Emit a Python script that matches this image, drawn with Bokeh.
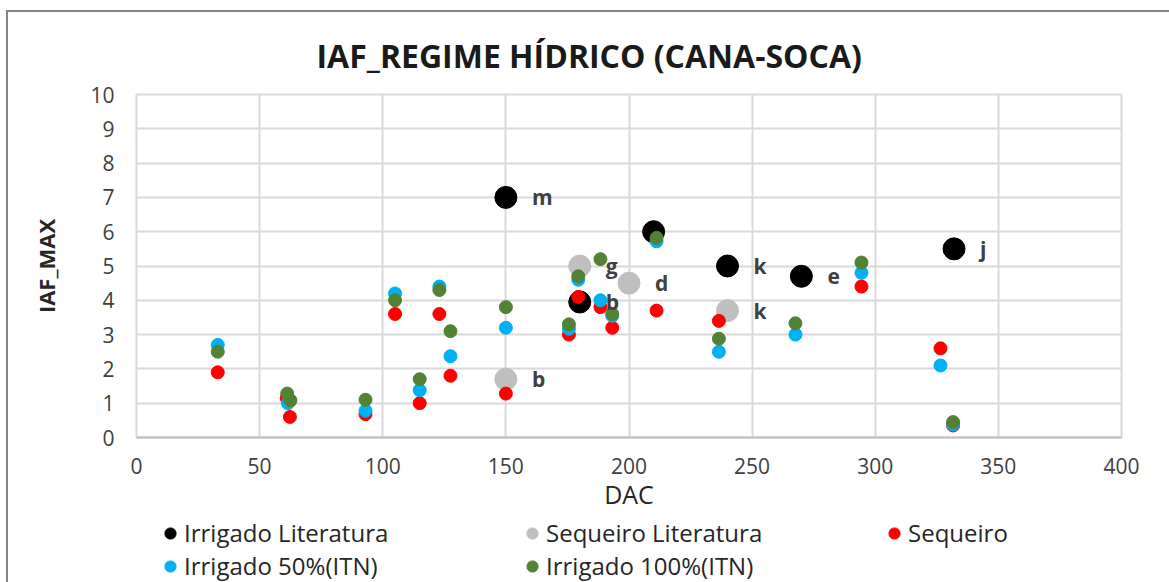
from bokeh.plotting import figure
from bokeh.layouts import column
from bokeh.models import (Range1d, Legend, LegendItem, ColumnDataSource,
                          FixedTicker)
from bokeh.embed import file_html
from bokeh.resources import INLINE
from bokeh.core.properties import value

# ---------------- data ----------------
title_text = "IAF_REGIME HÍDRICO  (CANA-SOCA)"
x_label = "DAC"
y_label = "IAF_MAX"
x_ticks = [0, 50, 100, 150, 200, 250, 300, 350, 400]
y_ticks = [0, 1, 2, 3, 4, 5, 6, 7, 8, 9, 10]

irr_lit_x = [150, 210, 180, 240, 270, 332]
irr_lit_y = [7.0, 6.0, 3.95, 5.0, 4.7, 5.5]
irr_lit_lbl = ["m", "", "b", "k", "e", "j"]

seq_lit_x = [150, 180, 200, 240]
seq_lit_y = [1.7, 5.0, 4.5, 3.7]
seq_lit_lbl = ["b", "g", "d", "k"]

seq_x = [33, 61, 62.3, 93, 105, 115, 123, 127.5, 150, 175.6, 179.4, 188.4, 193.2, 211.2, 236.5, 294.4, 326.5, 331.6]
seq_y = [1.9, 1.15, 0.6, 0.68, 3.6, 1.0, 3.6, 1.8, 1.28, 3.0, 4.1, 3.8, 3.2, 3.7, 3.4, 4.4, 2.6, 0.35]

irr50_x = [33, 61.5, 93, 105, 115, 123, 127.5, 150, 175.6, 179.4, 188.4, 193.2, 211.2, 236.5, 267.6, 294.4, 326.5, 331.6]
irr50_y = [2.7, 1.0, 0.78, 4.2, 1.38, 4.4, 2.37, 3.2, 3.17, 4.6, 4.0, 3.55, 5.72, 2.5, 3.0, 4.8, 2.1, 0.38]

irr100_x = [33, 61.2, 62.5, 93, 105, 115, 123, 127.5, 150, 175.6, 179.4, 188.4, 193.2, 211.2, 236.5, 267.6, 294.4, 331.6]
irr100_y = [2.5, 1.28, 1.08, 1.1, 4.0, 1.7, 4.3, 3.1, 3.8, 3.3, 4.7, 5.2, 3.6, 5.82, 2.88, 3.33, 5.1, 0.45]

series_names = ["Irrigado Literatura", "Sequeiro Literatura", "Sequeiro",
                "Irrigado 50%(ITN)", "Irrigado 100%(ITN)"]
series_colors = ["#000000", "#BFBFBF", "#FF0000", "#00B0F0", "#548235"]
series_sizes = [22, 22, 13, 13, 13]

# ---------------- main figure ----------------
FONT = "Open Sans"

p = figure(width=1161, height=504, output_backend="svg", toolbar_location=None,
           x_range=Range1d(0, 400), y_range=Range1d(0, 10),
           min_border_left=128, min_border_right=48,
           min_border_top=82, min_border_bottom=79)
p.background_fill_color = "white"
p.border_fill_color = "white"
p.outline_line_color = "#D9D9D9"
p.outline_line_width = 2

p.title.text = title_text
p.title.align = "left"
p.title.offset = 180
p.title.text_font = FONT
p.title.text_font_style = "bold"
p.title.text_font_size = "32px"
p.title.text_color = "#1A1A1A"
if "standoff" in p.title.properties():
    p.title.standoff = 35

p.xaxis.ticker = FixedTicker(ticks=x_ticks)
p.yaxis.ticker = FixedTicker(ticks=y_ticks)
for ax in (p.xaxis[0], p.yaxis[0]):
    ax.major_tick_line_color = None
    ax.minor_tick_line_color = None
    ax.major_label_text_font = FONT
    ax.major_label_text_font_size = "21px"
    ax.major_label_text_color = "#404040"
    ax.axis_label_text_font = FONT
    ax.axis_label_text_color = "#262626"
p.xaxis.axis_line_color = "#BFBFBF"
p.xaxis.axis_line_width = 2
p.yaxis.axis_line_color = None
p.xaxis.major_label_standoff = 14
p.yaxis.major_label_standoff = 16
p.xaxis.axis_label = x_label
p.xaxis.axis_label_text_font_size = "25px"
p.xaxis.axis_label_text_font_style = "normal"
p.xaxis.axis_label_standoff = 0
p.yaxis.axis_label = y_label
p.yaxis.axis_label_text_font_size = "22px"
p.yaxis.axis_label_text_font_style = "bold"
p.yaxis.axis_label_standoff = 26

p.grid.grid_line_color = "#D9D9D9"
p.grid.grid_line_width = 2

src_irr_lit = ColumnDataSource(dict(x=irr_lit_x, y=irr_lit_y, lbl=irr_lit_lbl))
src_seq_lit = ColumnDataSource(dict(x=seq_lit_x, y=seq_lit_y, lbl=seq_lit_lbl))
series_data = [(irr_lit_x, irr_lit_y), (seq_lit_x, seq_lit_y), (seq_x, seq_y),
               (irr50_x, irr50_y), (irr100_x, irr100_y)]

for (sx, sy), col, sz in zip(series_data, series_colors, series_sizes):
    p.scatter(sx, sy, size=sz, marker="circle", fill_color=col, line_color=col)

for src in (src_irr_lit, src_seq_lit):
    p.text("x", "y", text="lbl", source=src, x_offset=26, text_align="left",
           text_baseline="middle", text_font=value(FONT), text_font_style="bold",
           text_font_size="21px", text_color="#404040")

# ---------------- legend strip (own figure so it is not clipped) ----------------
q = figure(width=1161, height=66, output_backend="svg", toolbar_location=None,
           x_range=Range1d(0, 1), y_range=Range1d(0, 1),
           x_axis_type=None, y_axis_type=None,
           min_border_left=0, min_border_right=0, min_border_top=0, min_border_bottom=0)
q.outline_line_color = None
q.grid.visible = False
q.background_fill_color = "white"
q.border_fill_color = "white"

leg_renderers = []
for (sx, sy), col, sz in zip(series_data, series_colors, series_sizes):
    # same series; this strip's ranges keep the points out of view, only the legend shows
    leg_renderers.append(q.scatter(sx, sy, size=sz, marker="circle",
                                   fill_color=col, line_color=col))

legend = Legend(items=[LegendItem(label=n, renderers=[r]) for n, r in
                       zip(series_names, leg_renderers)],
                orientation="horizontal", ncols=3, location=(20, 0),
                glyph_width=28, glyph_height=32, label_standoff=0,
                label_width=334, spacing=0, padding=0, margin=0,
                border_line_color=None, background_fill_alpha=0,
                label_text_font=FONT, label_text_font_size="24px",
                label_text_color="#262626")
q.add_layout(legend)

layout = column(p, q, spacing=0,
                styles={"border-left": "2px solid #868686", "border-top": "2px solid #868686",
                        "margin-left": "6px", "margin-top": "10px"})

open("out.html", "w").write(file_html(layout, INLINE))
